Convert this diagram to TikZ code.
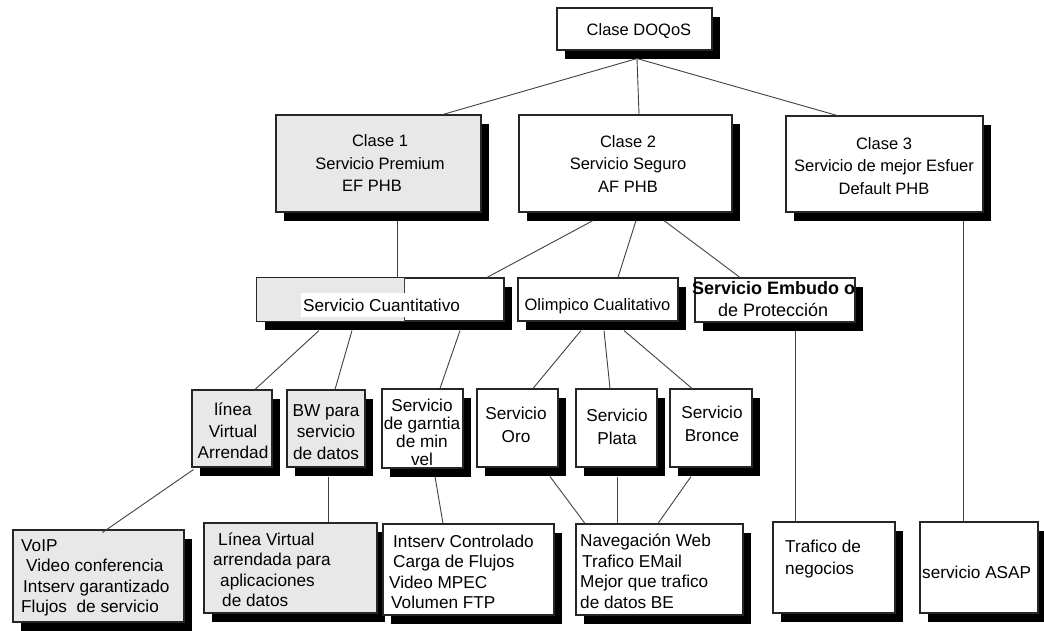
\documentclass[tikz,border=0pt]{standalone}
\usepackage{fontspec}
\setmainfont{Liberation Sans}
\usetikzlibrary{shadows}
\definecolor{boxgray}{HTML}{E8E8E8}
\definecolor{linkgray}{HTML}{404040}
\newcommand\szupper{\fontsize{16.5}{22.5}\selectfont}
\newcommand\szmid{\fontsize{17.2}{21.5}\selectfont}
\newcommand\szlower{\fontsize{17.2}{20.5}\selectfont}
\begin{document}
\begin{tikzpicture}[x=1pt,y=-1pt,
  boxline/.style={draw=black!85, line width=1.1pt},
  box/.style={boxline, fill=white, inner sep=0pt,
    drop shadow={shadow xshift=8pt, shadow yshift=-9pt, fill=black, opacity=1}},
  graybox/.style={box, fill=boxgray},
  lbl/.style={inner sep=0pt, align=center},
  lbll/.style={inner sep=0pt, align=left, anchor=west},
  link/.style={draw=linkgray, line width=0.9pt},
]
\useasboundingbox (0,0) rectangle (1044,631);

% ---- boxes ----
\node[box, minimum width=155pt, minimum height=42pt] (doqos) at (634.5,29) {};

\node[graybox, minimum width=205pt, minimum height=97pt] (c1) at (378.5,163.5) {};
\node[box, minimum width=213pt, minimum height=97pt] (c2) at (625.5,163.5) {};
\node[box, minimum width=197pt, minimum height=96pt] (c3) at (884.5,164) {};

\node[box, minimum width=247pt, minimum height=43pt] (sc) at (380.5,299.5) {};
\node[box, minimum width=160pt, minimum height=43pt] (ol) at (598,299.5) {};
\node[box, minimum width=160pt, minimum height=44pt] (em) at (775,300) {};

\node[graybox, minimum width=80pt, minimum height=77pt] (lv) at (232,428.5) {};
\node[graybox, minimum width=78pt, minimum height=77pt] (bw) at (326,428.5) {};
\node[box, minimum width=81pt, minimum height=79pt] (sg) at (422.5,428.5) {};
\node[box, minimum width=81pt, minimum height=78pt] (oro) at (517.5,428) {};
\node[box, minimum width=81pt, minimum height=78pt] (plata) at (616.5,428) {};
\node[box, minimum width=82pt, minimum height=78pt] (bronce) at (711,428) {};

\node[graybox, minimum width=171pt, minimum height=92pt] (voip) at (98.5,576) {};
\node[graybox, minimum width=173pt, minimum height=90pt] (lva) at (290.5,568) {};
\node[box, minimum width=171pt, minimum height=91pt] (isc) at (468.5,569.5) {};
\node[box, minimum width=167pt, minimum height=91pt] (nav) at (659.5,569.5) {};
\node[box, minimum width=122pt, minimum height=91pt] (tn) at (834,567.5) {};
\node[box, minimum width=118pt, minimum height=91pt] (asap) at (979,567.5) {};

% grey left part of the quantitative service box, its outline redrawn,
% and the line running through it
\fill[boxgray] (sc.north west) rectangle ([xshift=23pt]sc.south);
\draw[boxline] (sc.north west) rectangle (sc.south east);
\draw[link] ([xshift=23.5pt]sc.north) -- ([xshift=23.5pt]sc.south);

% ---- connectors ----
\draw[link] ([xshift=2.5pt,yshift=-8pt]doqos.south) -- ([xshift=64.5pt]c1.north);
\draw[link] ([xshift=2.5pt,yshift=-8pt]doqos.south) -- ([xshift=13.5pt]c2.north);
\draw[link] ([xshift=2.5pt,yshift=-8pt]doqos.south) -- ([xshift=-47.5pt]c3.north);

\draw[link] ([xshift=18.5pt,yshift=-8pt]c1.south) -- ([xshift=16.5pt]sc.north);
\draw[link] ([xshift=-32.5pt,yshift=-8pt]c2.south) -- ([xshift=106.5pt]sc.north);
\draw[link] ([xshift=10.5pt,yshift=-8pt]c2.south) -- ([xshift=20pt]ol.north);
\draw[link] ([xshift=38.5pt,yshift=-8pt]c2.south) -- ([xshift=-35pt]em.north);
\draw[link] ([xshift=78.5pt,yshift=-8pt]c3.south) -- ([xshift=-16pt]asap.north);

\draw[link] ([xshift=-61.5pt,yshift=-9pt]sc.south) -- ([xshift=23pt]lv.north);
\draw[link] ([xshift=-28.5pt,yshift=-9pt]sc.south) -- ([xshift=9pt]bw.north);
\draw[link] ([xshift=79.5pt,yshift=-9pt]sc.south) -- ([xshift=17.5pt]sg.north);
\draw[link] ([xshift=-17pt,yshift=-9pt]ol.south) -- ([xshift=15.5pt]oro.north);
\draw[link] ([xshift=6pt,yshift=-9pt]ol.south) -- ([xshift=-6.5pt]plata.north);
\draw[link] ([xshift=26pt,yshift=-9pt]ol.south) -- ([xshift=-19pt]bronce.north);
\draw[link] ([xshift=20pt,yshift=-8pt]em.south) -- ([xshift=-39pt]tn.north);

\draw[link] ([xshift=2pt,yshift=-2pt]lv.south west) -- ([xshift=4pt,yshift=-3pt]voip.north);
\draw[link] ([xshift=2pt,yshift=-9pt]bw.south) -- ([xshift=37.5pt]lva.north);
\draw[link] ([xshift=12.5pt,yshift=-8pt]sg.south) -- ([xshift=-25.5pt]isc.north);
\draw[link] ([xshift=32.5pt,yshift=-9pt]oro.south) -- ([xshift=-74.5pt]nav.north);
\draw[link] ([xshift=0.5pt,yshift=-9pt]plata.south) -- ([xshift=-42.5pt]nav.north);
\draw[link] ([xshift=-20pt,yshift=-9pt]bronce.south) -- ([xshift=-1.5pt]nav.north);

% ---- texts ----
\node[lbl, font=\szupper] (doqos-t) at (639,31) {Clase DOQoS};
\node[lbl, font=\szupper] (c1-t) at (380,163.5) {Clase 1\\Servicio Premium\\EF PHB\hspace*{16pt}};
\node[lbl, font=\szupper] (c2-t) at (628,164) {Clase 2\\Servicio Seguro\\AF PHB};
\node[lbl, font=\szupper] (c3-t) at (884,166) {Clase 3\\Servicio de mejor Esfuer\\Default PHB};

\node[lbll, font=\szmid, fill=white, inner xsep=2pt, minimum height=24pt] (sc-t) at (301,305) {Servicio Cuantitativo};
\node[lbl, font=\szupper] (ol-t) at (597.5,306) {Olimpico Cualitativo};
\node[lbll, font=\fontsize{18}{22}\selectfont] (em-t) at (692,299) {\textbf{Servicio Embudo o}\\\hspace*{26pt}de Protección};

\node[lbl, font=\szmid] (lv-t) at (233,431) {línea\\Virtual\\Arrendad};
\node[lbl, font=\szmid] (bw-t) at (326,432) {BW para\\servicio\\de datos};
\node[lbl, font=\fontsize{17.2}{18}\selectfont] (sg-t) at (422,432) {Servicio\\de garntia\\de min\\vel};
\node[lbl, font=\fontsize{17.2}{23}\selectfont] (oro-t) at (516,425) {Servicio\\Oro};
\node[lbl, font=\fontsize{17.2}{23}\selectfont] (plata-t) at (617,426.5) {Servicio\\Plata};
\node[lbl, font=\fontsize{17.2}{23}\selectfont] (bronce-t) at (712,424) {Servicio\\Bronce};

\node[lbll, font=\szlower] (voip-t) at (21,578) {VoIP\\\hspace*{5pt}Video conferencia\\\hspace*{2pt}Intserv garantizado\\Flujos\ \ de servicio};
\node[lbll, font=\szlower] (lva-t) at (213,569.5) {\hspace*{5pt}Línea Virtual\\arrendada para\\\hspace*{7pt}aplicaciones\\\hspace*{9pt}de datos};
\node[lbll, font=\szlower] (isc-t) at (389,572) {\hspace*{4pt}Intserv Controlado\\\hspace*{4pt}Carga de Flujos\\Video MPEC\\\hspace*{2pt}Volumen FTP};
\node[lbll, font=\szlower] (nav-t) at (580,571) {Navegación Web\\\hspace*{2pt}Trafico EMail\\Mejor que trafico\\de datos BE};
\node[lbll, font=\fontsize{17.2}{22}\selectfont] (tn-t) at (785,559) {Trafico de\\negocios};
\node[lbll, font=\szlower] (asap-t) at (922,572) {servicio ASAP};
\end{tikzpicture}
\end{document}
